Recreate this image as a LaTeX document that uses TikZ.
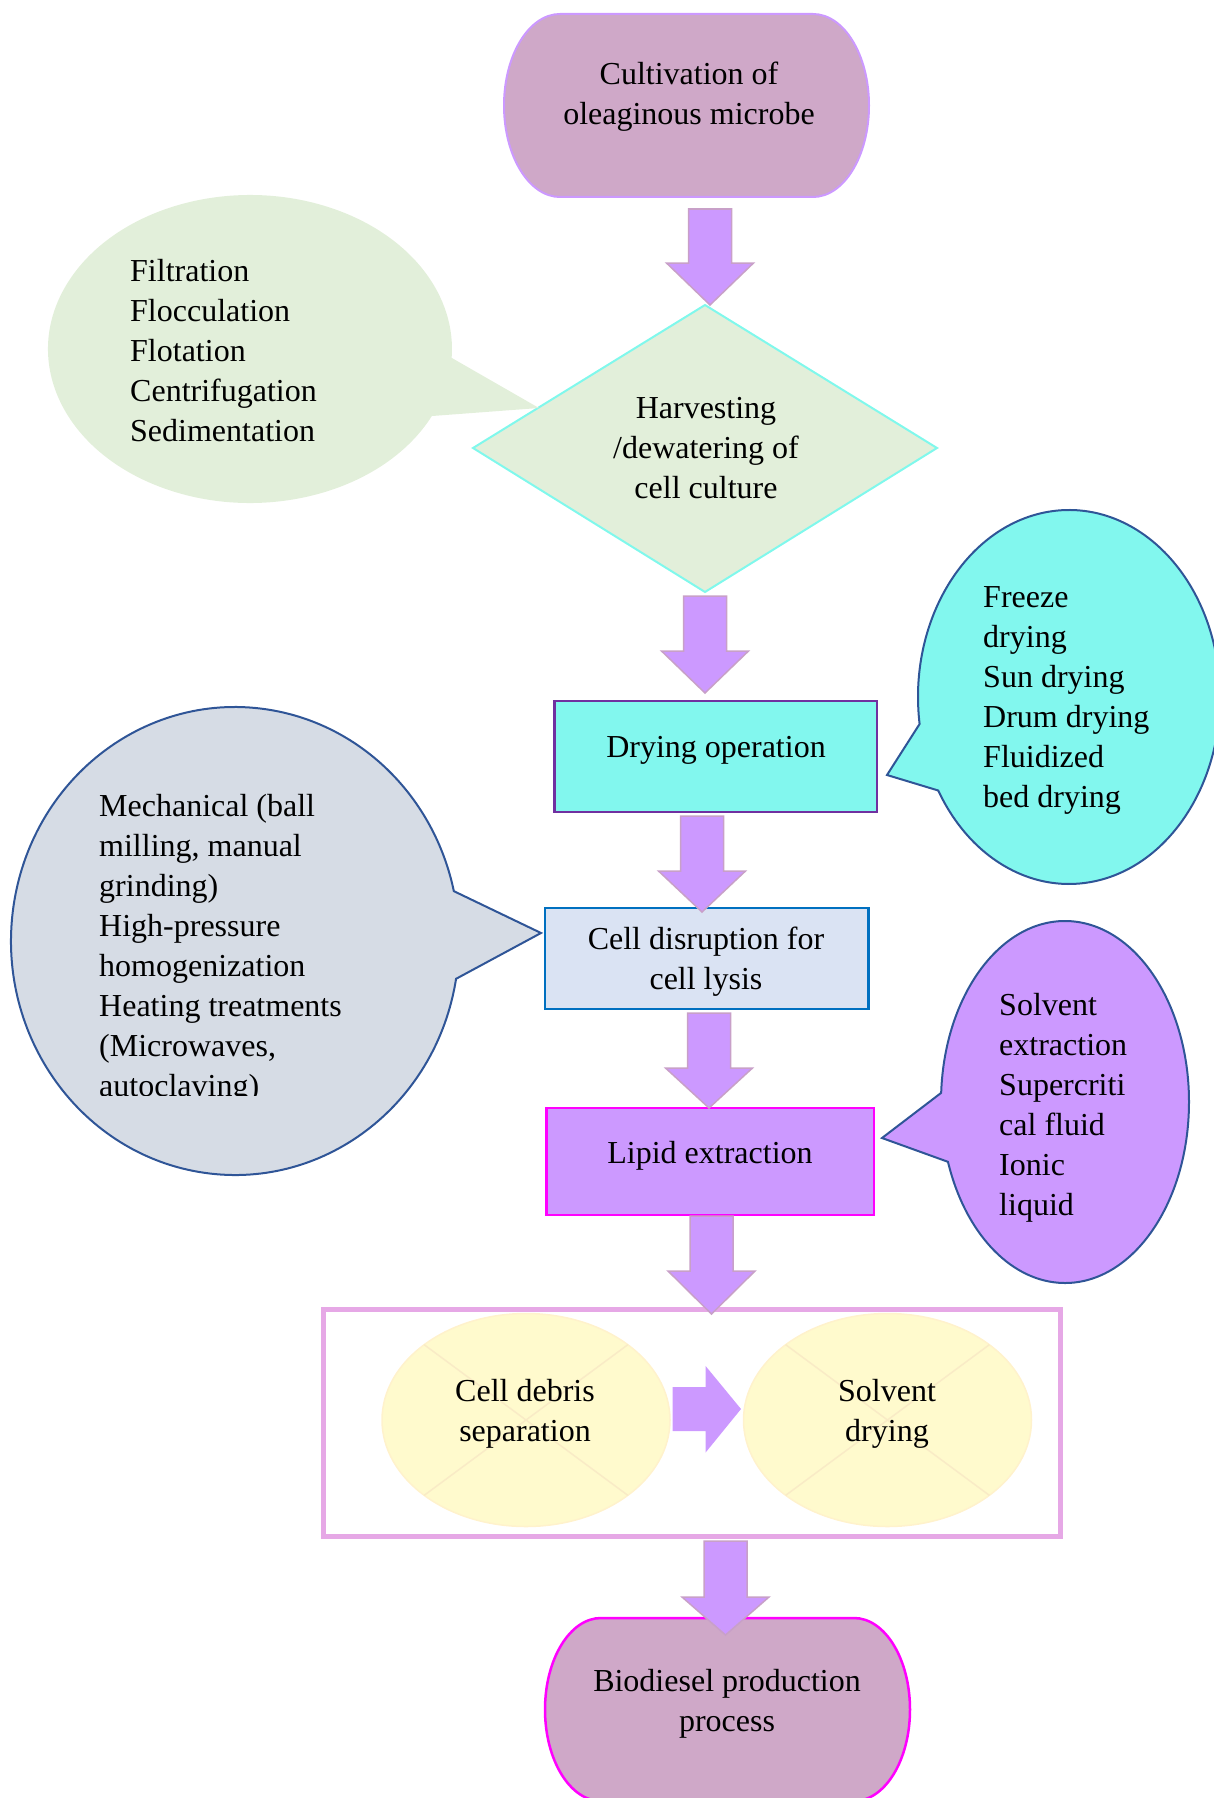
\documentclass[tikz,border=0pt]{standalone}
\usepackage{fontspec}
\setmainfont{Liberation Serif}
\usetikzlibrary{calc}

\definecolor{termfill}{HTML}{CFA8C8}
\definecolor{termedge}{HTML}{CC99FF}
\definecolor{magentaedge}{HTML}{FF00FF}
\definecolor{arrowfill}{HTML}{CC99FF}
\definecolor{arrowedge}{HTML}{C8A0C8}
\definecolor{palegreen}{HTML}{E2EFDA}
\definecolor{aquaedge}{HTML}{80F8EC}
\definecolor{aquafill}{HTML}{82F7EE}
\definecolor{plumedge}{HTML}{7030A0}
\definecolor{navyedge}{HTML}{2F5597}
\definecolor{iceblue}{HTML}{DAE3F3}
\definecolor{oceanedge}{HTML}{0070C0}
\definecolor{slatefill}{HTML}{D6DCE5}
\definecolor{orchidedge}{HTML}{E6A8E6}
\definecolor{lemonfill}{HTML}{FFFACD}
\definecolor{lemonedge}{HTML}{FFF2CC}
\definecolor{lemoncross}{HTML}{F9EBC6}

% downward block arrow: x centre, top, start of head, tip
\newcommand\downblock[4]{%
  \draw[blockarrow] (#1-21.5,#2) -- (#1+21.5,#2) -- (#1+21.5,#3) -- (#1+43.5,#3)
    -- (#1,#4) -- (#1-43.5,#3) -- (#1-21.5,#3) -- cycle;}

\begin{document}
\begin{tikzpicture}[x=1pt,y=-1pt,
  every node/.style={font=\fontsize{32}{40}\selectfont, inner sep=0pt, text=black},
  blockarrow/.style={fill=arrowfill, draw=arrowedge, line width=1.5pt, line join=miter},
  listtext/.style={anchor=west, align=left},
  boxtext/.style={align=center}]

\useasboundingbox (0,0) rectangle (1213,1798);

% ---------- start terminator ----------
\draw[fill=termfill, draw=termedge, line width=2pt]
  (560,14) -- (813,14) arc[start angle=-90, end angle=90, x radius=56, y radius=91.5]
  -- (560,197) arc[start angle=90, end angle=270, x radius=56, y radius=91.5] -- cycle;
\node[boxtext] (cultivation) at (689,96.5) {Cultivation of\\oleaginous microbe};

% ---------- harvesting decision ----------
\draw[fill=palegreen, draw=aquaedge, line width=2pt]
  (705,305) -- (937,448) -- (705,592) -- (473,448) -- cycle;
\node[boxtext] (harvest) at (706,448.5) {Harvesting\\/dewatering of\\cell culture};

% green callout with harvesting methods
\coordinate (gc) at (250,349);
\coordinate (gtip) at (539,408);
\fill[palegreen] ($(gc)+(3.3:202 and 154)$) -- (gtip) -- ($(gc)+(25.8:202 and 154)$)
  arc[start angle=25.8, end angle=363.3, x radius=202, y radius=154] -- cycle;
\node[listtext] (harvestlist) at (130,351)
  {Filtration\\Flocculation\\Flotation\\Centrifugation\\Sedimentation};

% ---------- drying ----------
\draw[fill=aquafill, draw=plumedge, line width=2.5pt] (554.5,701) rectangle (877,812);
\node (drying) at (716,750.5) {Drying operation};

\coordinate (cc) at (1069,697);
\coordinate (ctip) at (887,775);
\draw[fill=aquafill, draw=navyedge, line width=2pt]
  ($(cc)+(150:151 and 187)$) -- (ctip) -- ($(cc)+(171.7:151 and 187)$)
  arc[start angle=171.7, end angle=510, x radius=151, y radius=187] -- cycle;
\node[listtext] (dryinglist) at (983,700)
  {Freeze\\drying\\Sun drying\\Drum drying\\Fluidized\\bed drying};

% ---------- cell disruption ----------
\draw[fill=iceblue, draw=oceanedge, line width=2.5pt] (545,908) rectangle (868.5,1009);
\node[boxtext] (disruption) at (706,961.5) {Cell disruption for\\cell lysis};

\coordinate (sc) at (235,941);
\coordinate (stip) at (541,933);
\draw[fill=slatefill, draw=navyedge, line width=2pt]
  ($(sc)+(-12.3:224 and 234)$) -- (stip) -- ($(sc)+(9.3:224 and 234)$)
  arc[start angle=9.3, end angle=347.7, x radius=224, y radius=234] -- cycle;
\begin{scope}
  \clip (0,700) rectangle (600,1095);
  \node[listtext] (disruptionlist) at (99,948.5)
    {Mechanical (ball\\milling, manual\\grinding)\\High-pressure\\homogenization\\Heating treatments\\(Microwaves,\\autoclaving)};
\end{scope}

% ---------- lipid extraction ----------
\draw[fill=arrowfill, draw=magentaedge, line width=2.5pt] (546.5,1108) rectangle (874,1215);
\node (lipid) at (710,1155.5) {Lipid extraction};

\coordinate (pc) at (1065,1102);
\coordinate (ptip) at (882,1138);
\draw[fill=arrowfill, draw=navyedge, line width=2pt]
  ($(pc)+(160.7:124 and 181)$) -- (ptip) -- ($(pc)+(182.9:124 and 181)$)
  arc[start angle=182.9, end angle=520.7, x radius=124, y radius=181] -- cycle;
\node[listtext] (lipidlist) at (999,1107.5)
  {Solvent\\extraction\\Supercriti\\cal fluid\\Ionic\\liquid};

% ---------- separation group ----------
\draw[draw=orchidedge, line width=5pt] (323,1309) rectangle (1060,1536);

\coordinate (jl) at (526,1420);
\coordinate (jr) at (887.5,1420);
\foreach \j in {jl,jr}{
  \draw[fill=lemonfill, draw=lemonedge, line width=1.5pt] (\j) ellipse [x radius=144, y radius=106.5];
  \draw[lemoncross, line width=1.5pt] ($(\j)+(45:144 and 106.5)$) -- ($(\j)+(225:144 and 106.5)$);
  \draw[lemoncross, line width=1.5pt] ($(\j)+(135:144 and 106.5)$) -- ($(\j)+(315:144 and 106.5)$);
}
\node[boxtext] (debris) at (525,1414) {Cell debris\\separation};
\node[boxtext] (solventdry) at (887,1414) {Solvent\\drying};

\draw[fill=arrowfill, draw=none]
  (672.5,1387) -- (705.6,1387) -- (705.6,1366) -- (741,1409) -- (705.6,1452.5)
  -- (705.6,1431) -- (672.5,1431) -- cycle;

% ---------- end terminator ----------
\draw[fill=termfill, draw=magentaedge, line width=2.5pt]
  (601,1618) -- (854,1618) arc[start angle=-90, end angle=90, x radius=56, y radius=91.5]
  -- (601,1801) arc[start angle=90, end angle=270, x radius=56, y radius=91.5] -- cycle;
\node[boxtext] (biodiesel) at (727,1703.5) {Biodiesel production\\process};

% ---------- flow arrows ----------
\downblock{710}{209}{263}{305}
\downblock{705}{596}{651}{693}
\downblock{702}{816}{871}{912}
\downblock{709}{1013}{1068}{1108}
\downblock{711.5}{1216}{1271}{1314}
\downblock{725.5}{1541}{1597}{1635}

\end{tikzpicture}
\end{document}
